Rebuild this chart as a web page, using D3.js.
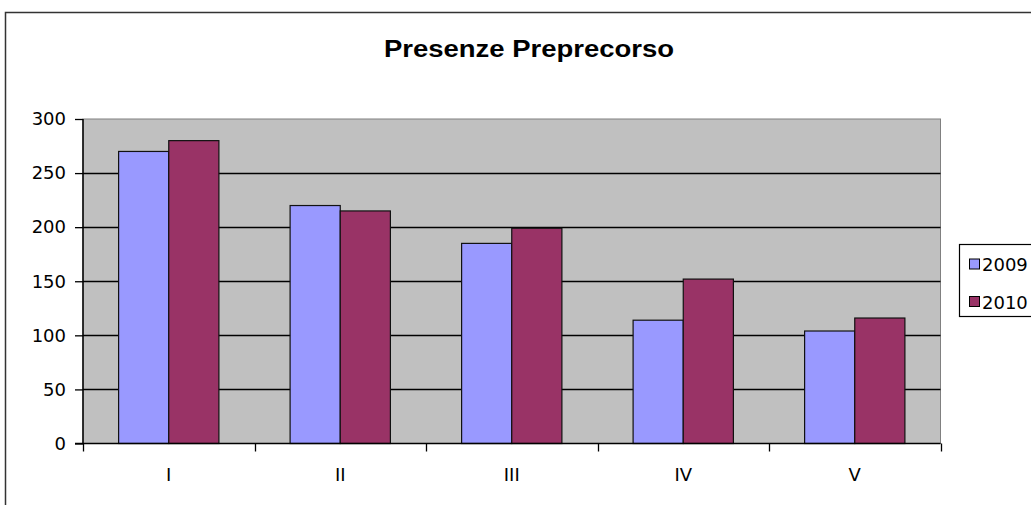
<!DOCTYPE html>
<html>
<head>
<meta charset="utf-8">
<script src="https://cdn.jsdelivr.net/npm/d3@7"></script>
<style>
body { margin: 0; background: #fff; }
svg { font-family: "DejaVu Sans", Arial, sans-serif; }
</style>
</head>
<body>
<div id="chart"></div>
<script>
var categories = ["I", "II", "III", "IV", "V"];
var seriesNames = ["2009", "2010"];
var values2009 = [270, 220, 185, 114, 104];
var values2010 = [280, 215, 199, 152, 116];
var yTicks = [0, 50, 100, 150, 200, 250, 300];
var colors = ["#9999FF", "#993366"];

var width = 1031, height = 505;
var plot = {left: 83, right: 940.5, top: 119, bottom: 443.5};
var fontName = "DejaVu Sans, Arial, sans-serif";

var svg = d3.select("#chart").append("svg")
	.attr("width", width)
	.attr("height", height);

// chart frame (cut off at right/bottom like the screenshot)
svg.append("path")
	.attr("d", "M5.5," + (height + 5) + "V12.5H" + (width + 5))
	.attr("fill", "none")
	.attr("stroke", "#333")
	.attr("stroke-width", 1.5);

svg.append("text")
	.attr("x", 529)
	.attr("y", 57)
	.attr("text-anchor", "middle")
	.attr("font-family", "Liberation Sans, Arial, sans-serif")
	.attr("font-size", 23)
	.attr("font-weight", "bold")
	.attr("textLength", 290)
	.attr("lengthAdjust", "spacingAndGlyphs")
	.text("Presenze Preprecorso");

var x = d3.scaleBand()
	.domain(categories)
	.range([plot.left, plot.right]);

var x1 = d3.scaleBand()
	.domain(seriesNames)
	.range([0, x.bandwidth()])
	.paddingInner(0)
	.paddingOuter(0.71);

var y = d3.scaleLinear()
	.domain([0, 300])
	.range([plot.bottom, plot.top]);

// plot background
svg.append("rect")
	.attr("x", plot.left)
	.attr("y", plot.top)
	.attr("width", plot.right - plot.left)
	.attr("height", plot.bottom - plot.top)
	.attr("fill", "#C0C0C0")
	.attr("stroke", "#808080")
	.attr("stroke-width", 1);

// gridlines
svg.append("g")
	.selectAll("line")
	.data(yTicks.filter(function(d) { return d > 0 && d < 300; }))
	.enter().append("line")
	.attr("x1", plot.left)
	.attr("x2", plot.right)
	.attr("y1", function(d) { return Math.round(y(d)) + 0.5; })
	.attr("y2", function(d) { return Math.round(y(d)) + 0.5; })
	.attr("stroke", "#000")
	.attr("stroke-width", 1.3);

// bars
var rows = categories.map(function(c, i) {
	return {cat: c, vals: [values2009[i], values2010[i]]};
});

var groups = svg.append("g")
	.selectAll("g")
	.data(rows)
	.enter().append("g")
	.attr("transform", function(d) { return "translate(" + x(d.cat) + ",0)"; });

groups.selectAll("rect")
	.data(function(d) { return d.vals.map(function(v, j) { return {name: seriesNames[j], v: v, j: j}; }); })
	.enter().append("rect")
	.attr("x", function(d) { return x1(d.name); })
	.attr("y", function(d) { return y(d.v); })
	.attr("width", x1.bandwidth())
	.attr("height", function(d) { return y(0) - y(d.v); })
	.attr("fill", function(d) { return colors[d.j]; })
	.attr("stroke", "#111")
	.attr("stroke-width", 1.2);

// y axis
var yAxis = svg.append("g")
	.attr("transform", "translate(" + plot.left + ",0)")
	.call(d3.axisLeft(y).tickValues(yTicks).tickSize(8).tickPadding(9));
yAxis.selectAll("text").attr("font-size", 18).attr("fill", "#000")
	.attr("font-family", fontName);
yAxis.selectAll("line").attr("stroke", "#000").attr("stroke-width", 1.3);
yAxis.select(".domain").attr("d", "M0," + plot.top + "V" + plot.bottom)
	.attr("stroke", "#000").attr("stroke-width", 1.5);

// x axis
var xAxis = svg.append("g")
	.attr("transform", "translate(0," + plot.bottom + ")");
xAxis.append("line")
	.attr("x1", plot.left - 8)
	.attr("x2", plot.right)
	.attr("stroke", "#000")
	.attr("stroke-width", 1.5);
var edges = categories.map(function(c) { return x(c); }).concat([x(categories[categories.length - 1]) + x.bandwidth()]);
xAxis.selectAll(".tk")
	.data(edges)
	.enter().append("line")
	.attr("class", "tk")
	.attr("x1", function(d) { return Math.round(d) + 0.5; })
	.attr("x2", function(d) { return Math.round(d) + 0.5; })
	.attr("y1", 0)
	.attr("y2", 8)
	.attr("stroke", "#000")
	.attr("stroke-width", 1.3);
xAxis.selectAll(".lbl")
	.data(categories)
	.enter().append("text")
	.attr("class", "lbl")
	.attr("x", function(d) { return x(d) + x.bandwidth() / 2; })
	.attr("y", 37)
	.attr("text-anchor", "middle")
	.attr("font-size", 18)
	.text(function(d) { return d; });

// legend
var legend = svg.append("g");
legend.append("rect")
	.attr("x", 959.5)
	.attr("y", 244.5)
	.attr("width", 120)
	.attr("height", 72)
	.attr("fill", "#fff")
	.attr("stroke", "#000")
	.attr("stroke-width", 1.2);
var items = legend.selectAll(".item")
	.data(seriesNames)
	.enter().append("g")
	.attr("transform", function(d, i) { return "translate(969," + (264 + i * 37.5) + ")"; });
items.append("rect")
	.attr("x", 0.5)
	.attr("y", -5)
	.attr("width", 10)
	.attr("height", 10)
	.attr("fill", function(d, i) { return colors[i]; })
	.attr("stroke", "#000")
	.attr("stroke-width", 1);
items.append("text")
	.attr("x", 13)
	.attr("y", 7)
	.attr("font-size", 18)
	.text(function(d) { return d; });
</script>
</body>
</html>
